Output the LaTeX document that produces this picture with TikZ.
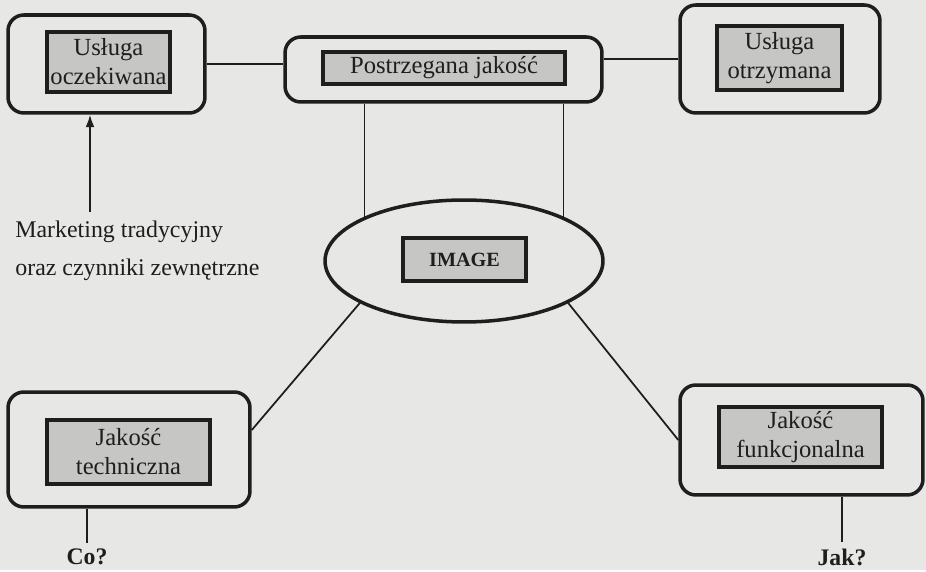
\documentclass[tikz,border=0pt]{standalone}
\usepackage{fontspec}
\setmainfont{Liberation Serif}
\usetikzlibrary{shapes.geometric,arrows.meta}
\definecolor{paper}{RGB}{231,231,229}
\definecolor{shade}{RGB}{198,198,196}
\definecolor{ink}{RGB}{30,30,30}

\begin{document}
\begin{tikzpicture}[x=0.02cm,y=-0.02cm,color=ink]
\tikzstyle{outer}=[draw,line width=2pt,rounded corners=9pt]
\tikzstyle{inner}=[draw,line width=1.9pt,fill=shade,align=center,inner sep=0pt,font=\fontsize{14}{16.5}\selectfont]
\tikzstyle{link}=[line width=1pt]
\tikzstyle{ask}=[font=\bfseries\fontsize{13.5}{15}\selectfont]
\fill[paper] (0,0) rectangle (926,570);
% gorny rzad
\node[outer,minimum width=3.94cm,minimum height=1.96cm] (oczek) at (106.5,64) {};
\node[inner,minimum width=2.46cm,minimum height=1.2cm] (oczektxt) at (108.5,62) {Usługa\\oczekiwana};
\node[outer,minimum width=6.34cm,minimum height=1.3cm] (postrz) at (443.5,69.5) {};
\node[inner,minimum width=4.84cm,minimum height=0.64cm] (postrztxt) at (444,68) {Postrzegana jakość};
\node[outer,minimum width=4.0cm,minimum height=2.16cm] (otrzym) at (780,59) {};
\node[inner,minimum width=2.5cm,minimum height=1.28cm] (otrzymtxt) at (779.5,58) {Usługa\\otrzymana};
% image
\node[draw,ellipse,line width=2pt,minimum width=5.56cm,minimum height=2.44cm] (image) at (464,261) {};
\node[inner,minimum width=2.46cm,minimum height=0.86cm,font=\bfseries\fontsize{11.5}{13}\selectfont] (imagetxt) at (464.5,259.5) {IMAGE};
% dolny rzad
\node[outer,minimum width=4.84cm,minimum height=2.3cm] (techn) at (129,449.5) {};
\node[inner,minimum width=3.26cm,minimum height=1.28cm] (techntxt) at (128.5,452) {Jakość\\techniczna};
\node[outer,minimum width=4.86cm,minimum height=2.2cm] (funkc) at (801.5,440) {};
\node[inner,minimum width=3.26cm,minimum height=1.2cm] (funkctxt) at (800.5,437) {Jakość\\funkcjonalna};
\node[anchor=north west,inner sep=0pt,align=left,font=\fontsize{13.6}{21.5}\selectfont] (mkt) at (15,221) {Marketing tradycyjny\\oraz czynniki zewnętrzne};
\node[ask] (co) at (87,557) {Co?};
\node[ask] (jak) at (842,557) {Jak?};
\coordinate (mktarrow) at (90,212);

\draw[link] (oczek.east) -- (oczek.east -| postrz.west);
\draw[link] (otrzym.west) -- (otrzym.west -| postrz.east);
\draw[link,-{Latex[length=7pt,width=5pt]}] (mktarrow) -- (mktarrow |- oczek.south);
\draw[link] (image.156) -- (image.156 |- postrz.south);
\draw[link] (image.24) -- (image.24 |- postrz.south);
\draw[link] (image.202) -- (techn.9);
\draw[link] (image.338) -- (funkc.west);
\draw[link] (co.north) -- (co.north |- techn.south);
\draw[link] (jak.north) -- (jak.north |- funkc.south);
\end{tikzpicture}
\end{document}
